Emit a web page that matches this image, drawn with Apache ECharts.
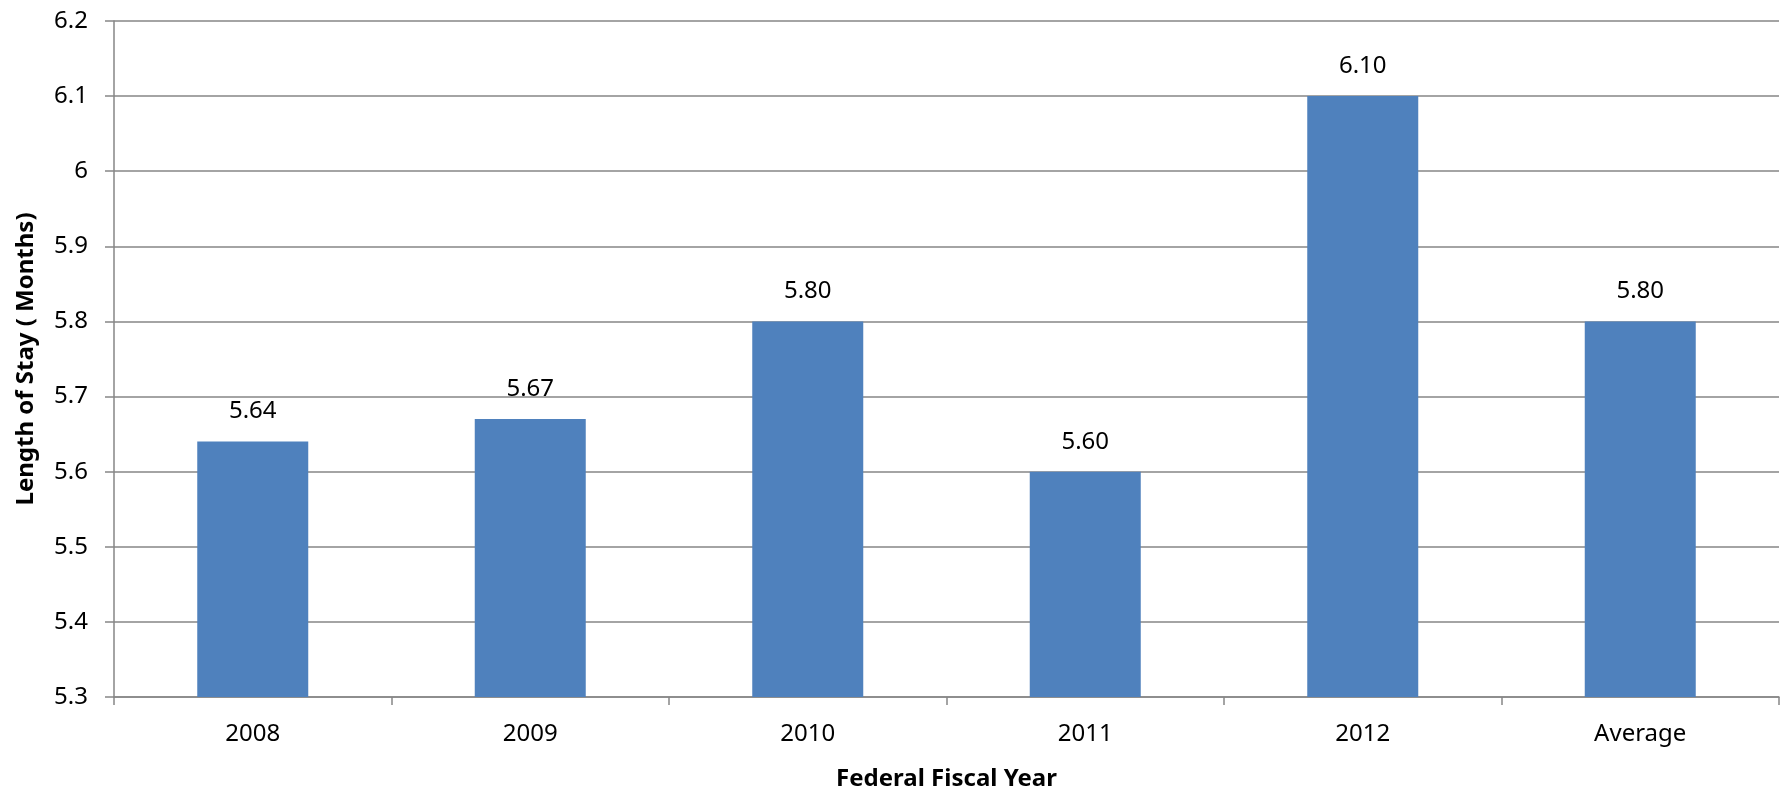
<!DOCTYPE html>
<html>
<head>
<meta charset="utf-8">
<script src="https://cdn.jsdelivr.net/npm/echarts@6/dist/echarts.min.js"></script>
<style>
  html, body { margin: 0; padding: 0; background: #fff; }
  #main { width: 1787px; height: 796px; }
</style>
</head>
<body>
<div id="main"></div>
<script>
// chart data
var years = ['2008', '2009', '2010', '2011', '2012', 'Average'];
var stayMonths = [5.64, 5.67, 5.80, 5.60, 6.10, 5.80];
var yMin = 5.3, yMax = 6.2, yStep = 0.1;

var myChart = echarts.init(document.getElementById('main'));
var font = '"Noto Sans", "Open Sans", sans-serif';
var option = {
  animation: false,
  grid: { left: 114, right: 8, top: 21, bottom: 97 },
  xAxis: {
    type: 'category',
    data: years,
    name: 'Federal Fiscal Year',
    nameLocation: 'middle',
    nameGap: 70,
    nameTextStyle: { fontFamily: font, fontSize: 24, fontWeight: 'bold', color: '#000' },
    axisLine: { lineStyle: { color: '#868686', width: 1.5 } },
    axisTick: { show: true, length: 8, lineStyle: { color: '#868686', width: 1.5 } },
    axisLabel: { fontFamily: font, fontSize: 24, color: '#000', margin: 25 }
  },
  yAxis: {
    type: 'value',
    min: yMin,
    max: yMax,
    interval: yStep,
    name: 'Length of Stay ( Months)',
    nameLocation: 'middle',
    nameGap: 76,
    nameTextStyle: { fontFamily: font, fontSize: 24, fontWeight: 'bold', color: '#000' },
    axisLine: { show: true, lineStyle: { color: '#868686', width: 1.5 } },
    axisTick: { show: true, length: 9, lineStyle: { color: '#868686', width: 1.5 } },
    axisLabel: { fontFamily: font, fontSize: 24, color: '#000', margin: 26 },
    splitLine: { lineStyle: { color: '#868686', width: 1.5 } }
  },
  series: [{
    type: 'bar',
    data: stayMonths,
    barWidth: '40%',
    itemStyle: { color: '#4F81BD' },
    label: {
      show: true,
      position: 'top',
      distance: 18,
      fontFamily: font,
      fontSize: 24,
      color: '#000',
      formatter: function (p) { return p.value.toFixed(2); }
    }
  }]
};
myChart.setOption(option);
</script>
</body>
</html>
